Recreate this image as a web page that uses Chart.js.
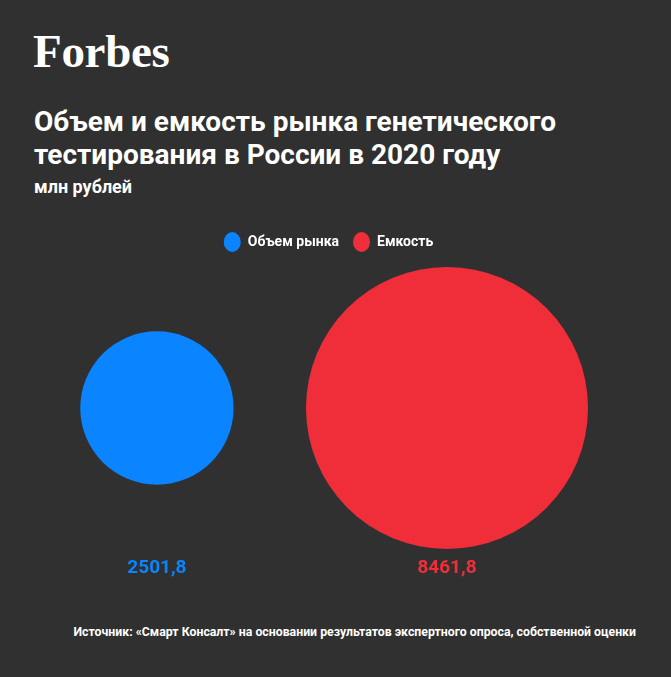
<!DOCTYPE html>
<html>
<head>
<meta charset="utf-8">
<script src="https://cdn.jsdelivr.net/npm/chart.js@4/dist/chart.umd.min.js"></script>
<style>
  html, body { margin: 0; padding: 0; }
  body { width: 671px; height: 677px; background: #303030; position: relative; overflow: hidden; font-family: Roboto, sans-serif; color: #fff; }
  .logo { position: absolute; left: 33px; top: 28px; font: bold 47px/47px "Liberation Serif", serif; letter-spacing: -0.3px; }
  .title { position: absolute; left: 34px; top: 105px; font-weight: 700; font-size: 28px; line-height: 33px; }
  .sub { position: absolute; left: 34px; top: 177px; font-weight: 700; font-size: 18px; line-height: 20px; }
  .source { position: absolute; right: 35px; top: 624px; font-weight: 700; font-size: 12.3px; line-height: 16px; white-space: nowrap; }
  #chart { position: absolute; left: 0; top: 220px; }
</style>
</head>
<body>
<div class="logo">Forbes</div>
<div class="title">Объем и емкость рынка генетического<br>тестирования в России в 2020 году</div>
<div class="sub">млн рублей</div>
<canvas id="chart" width="671" height="380"></canvas>
<div class="source">Источник: «Смарт Консалт» на основании результатов экспертного опроса, собственной оценки</div>
<script>
// Data
const categories = ['Объем рынка', 'Емкость'];
const values = [2501.8, 8461.8];
const colors = ['#0a84ff', '#f02e3a'];

// bubble area proportional to value
const radiusScale = 1.533;

// don't shrink the chart area by the bubble radius
Chart.BubbleController.prototype.getMaxOverflow = function() { return false; };

const datasets = categories.map((name, i) => ({
    label: name,
    data: [{ x: i, y: 0, r: radiusScale * Math.sqrt(values[i]), v: values[i] }],
    backgroundColor: colors[i],
    borderWidth: 0,
    hoverBorderWidth: 0,
    clip: false
}));

// value captions under the bubbles
const valueLabels = {
    id: 'valueLabels',
    afterDatasetsDraw(chart) {
        const ctx = chart.ctx;
        ctx.save();
        ctx.font = 'bold 19px Roboto';
        ctx.textAlign = 'center';
        ctx.textBaseline = 'middle';
        chart.data.datasets.forEach((ds, i) => {
            const el = chart.getDatasetMeta(i).data[0];
            ctx.fillStyle = ds.backgroundColor;
            ctx.fillText(String(ds.data[0].v).replace('.', ','), el.x, chart.chartArea.bottom + 11);
        });
        ctx.restore();
    }
};

new Chart(document.getElementById('chart'), {
    type: 'bubble',
    data: { datasets: datasets },
    options: {
        responsive: false,
        animation: false,
        layout: { padding: { top: 1, bottom: 43, left: 0, right: 14 } },
        scales: {
            x: { type: 'linear', display: false, min: -0.541, max: 1.724 },
            y: { type: 'linear', display: false, min: -1, max: 1 }
        },
        plugins: {
            legend: {
                position: 'top',
                labels: {
                    usePointStyle: true,
                    pointStyle: 'circle',
                    pointStyleWidth: 17,
                    color: '#ffffff',
                    font: { family: 'Roboto', size: 14, weight: 'bold' },
                    padding: 14
                }
            },
            tooltip: { enabled: false }
        }
    },
    plugins: [valueLabels]
});
</script>
</body>
</html>
